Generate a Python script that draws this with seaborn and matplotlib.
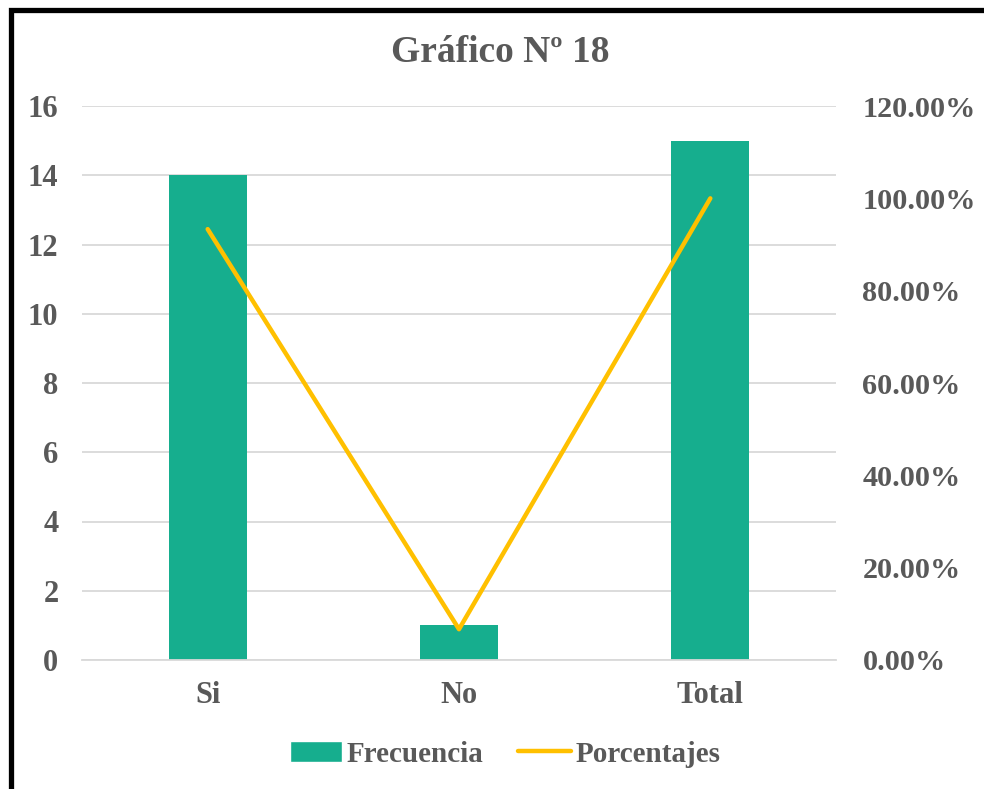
import matplotlib
matplotlib.use("Agg")
import matplotlib.pyplot as plt
import seaborn as sns
import pandas as pd
from matplotlib.patches import Rectangle
from matplotlib.lines import Line2D
from matplotlib.ticker import FuncFormatter

# datos del gráfico
categorias = ["Si", "No", "Total"]
frecuencia = [14, 1, 15]
porcentajes = [0.9333, 0.0667, 1.0]

verde = "#16AE8E"
naranja = "#FFC000"
gris = "#595959"

sns.set_style("white")
plt.rcParams["font.family"] = ["Liberation Serif", "DejaVu Serif"]
plt.rcParams["font.weight"] = "bold"

df = pd.DataFrame({"cat": categorias, "frec": frecuencia, "pct": porcentajes})

fig = plt.figure(figsize=(9.84, 7.89), dpi=100)
ax = fig.add_axes([82 / 984, 1 - 660 / 789, 754 / 984, 554 / 789])

sns.barplot(data=df, x="cat", y="frec", color=verde, width=0.31, ax=ax,
            saturation=1, linewidth=0, zorder=2)
ax.set_xlim(-0.5, 2.5)
ax.set_ylim(0, 16)
ax.set_yticks(range(0, 17, 2))
ax.grid(axis="y", color="#D9D9D9", linewidth=1.3, zorder=0)
ax.set_axisbelow(True)
ax.set_xlabel("")
ax.set_ylabel("")
for s in ["top", "left", "right"]:
    ax.spines[s].set_visible(False)
ax.spines["bottom"].set_color("#D9D9D9")
ax.spines["bottom"].set_linewidth(1.3)
ax.tick_params(axis="both", length=0, labelsize=22, labelcolor=gris)
ax.tick_params(axis="x", pad=15)
ax.tick_params(axis="y", pad=17)

ax2 = ax.twinx()
sns.lineplot(data=df, x="cat", y="pct", color=naranja, linewidth=3.2,
             sort=False, ax=ax2)
ax2.set_ylim(0, 1.2)
ax2.set_yticks([0, 0.2, 0.4, 0.6, 0.8, 1.0, 1.2])
ax2.yaxis.set_major_formatter(FuncFormatter(lambda v, p: f"{v * 100:.2f}%"))
ax2.set_ylabel("")
for s in ["top", "left", "right", "bottom"]:
    ax2.spines[s].set_visible(False)
ax2.tick_params(axis="y", length=0, labelsize=21.8, labelcolor=gris, pad=19)

for lbl in ax.get_xticklabels() + ax.get_yticklabels() + ax2.get_yticklabels():
    lbl.set_fontweight("bold")

fig.text(500 / 984, 1 - 53 / 789, "Gráfico Nº 18", ha="center", va="center",
         fontsize=27, fontweight="bold", color=gris)

handles = [Rectangle((0, 0), 1, 1, facecolor=verde),
           Line2D([0], [0], color=naranja, linewidth=3.2, solid_capstyle="round")]
fig.legend(handles, ["Frecuencia", "Porcentajes"], loc="center",
           bbox_to_anchor=(505 / 984, 1 - 754 / 789), ncol=2, frameon=False,
           prop={"size": 21, "weight": "bold"}, labelcolor=gris,
           handlelength=1.8, handletextpad=0.15, columnspacing=1.2)

# marco negro
fig.patches.append(Rectangle((10.5 / 984, -0.5), 2, 1.5 - 9.5 / 789,
                             transform=fig.transFigure, fill=False,
                             edgecolor="black", linewidth=3.8, clip_on=False))

fig.savefig("out.png", dpi=100)
